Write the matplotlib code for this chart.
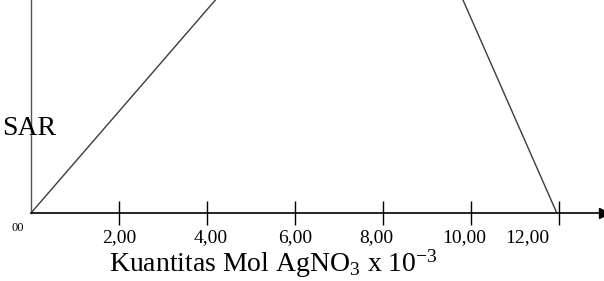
import numpy as np
import matplotlib.pyplot as plt

plt.rcParams['font.family'] = 'Liberation Serif'
plt.rcParams['mathtext.fontset'] = 'custom'
plt.rcParams['mathtext.rm'] = 'Liberation Serif'
plt.rcParams['mathtext.it'] = 'Liberation Serif:italic'
plt.rcParams['mathtext.default'] = 'regular'

# titik kurva titrasi (x dalam mol x 10^-3)
mol = [0, 7.92, 11.95]
nilai = [0, 1.89, 0]

ticks = [0, 2, 4, 6, 8, 10, 12]
tick_labels = ['2,00', '4,00', '6,00', '8,00', '10,00', '12,00']
label_pos = [2.0, 4.09, 6.0, 7.84, 9.84, 11.27]

fig = plt.figure(figsize=(6.04, 2.81), dpi=100)
ax = fig.add_axes([31 / 604, 68 / 281, 1 - 31 / 604, 213 / 281])

ax.plot(mol, nilai, color='#3c3c3c', lw=1.0)
ax.set_xlim(0, 573 / 44)
ax.set_ylim(0, 1)

for s in ['top', 'right']:
    ax.spines[s].set_visible(False)
ax.spines['left'].set_color('#555555')
ax.spines['left'].set_linewidth(1.0)
ax.spines['bottom'].set_linewidth(1.2)

ax.set_yticks([])
ax.set_xticks(ticks[1:])
ax.set_xticklabels([])
ax.tick_params(axis='x', direction='inout', length=17, width=1.0)

for p, t in zip(label_pos, tick_labels):
    ax.text(p, -0.115, t, ha='center', va='center', fontsize=14,
            transform=ax.get_xaxis_transform())

# panah di ujung sumbu x
ax.plot(1, 0, marker='>', color='black', ms=7,
        transform=ax.transAxes, clip_on=False)

ax.text(-0.012, -0.07, '00', ha='right', va='center', fontsize=9,
        transform=ax.transAxes)
fig.text(0.003, 1 - 135 / 281, 'SAR', ha='left', va='baseline', fontsize=20)

ax.set_xlabel(r'Kuantitas Mol AgNO$_3$ x 10$^{-3}$', fontsize=20)
ax.xaxis.set_label_coords((273 - 31) / 573, -0.16)

fig.savefig('out.png', dpi=100)
